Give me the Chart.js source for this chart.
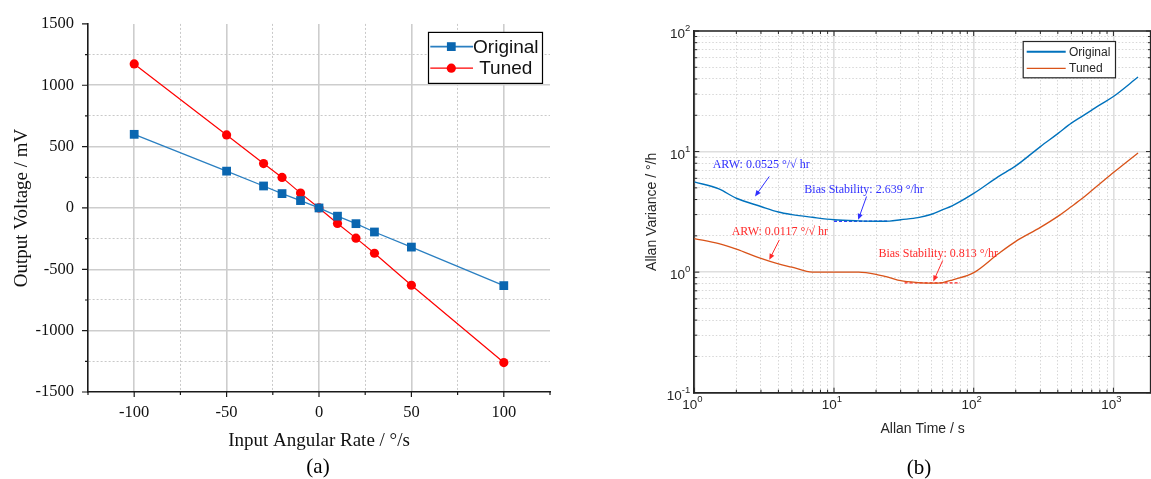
<!DOCTYPE html>
<html><head><meta charset="utf-8">
<script src="https://cdn.jsdelivr.net/npm/chart.js@4.4.0/dist/chart.umd.min.js"></script>
<style>
html,body{margin:0;padding:0;background:#fff;overflow:hidden;}
#wrap{position:relative;width:1151px;height:479px;}
#c1{position:absolute;left:0;top:0;}
#c2{position:absolute;left:575px;top:0;}
.lab{position:absolute;font-family:'Liberation Serif','Times New Roman',serif;font-size:21px;color:#000;transform:translate(-50%,-50%);white-space:nowrap;}
</style></head><body>
<div id="wrap">
<canvas id="c1" width="575" height="479"></canvas>
<canvas id="c2" width="576" height="479"></canvas>
<div class="lab" style="left:318px;top:466px">(a)</div>
<div class="lab" style="left:919px;top:467px">(b)</div>
</div>
<script>
// ---------- (a) data ----------
const rates = [-100, -50, -30, -20, -10, 0, 10, 20, 30, 50, 100];
const originalMV = [600, 300, 179, 117, 60, 0, -67, -128, -196, -319, -633];
const tunedMV = [1174, 595, 362, 249, 121, 0, -126, -246, -369, -630, -1260];
const rateTicks = [-100, -50, 0, 50, 100];
const voltTicks = [-1500, -1000, -500, 0, 500, 1000, 1500];

// ---------- (b) data ----------
const tau = [1, 1.5, 2, 3, 4, 5, 7, 10, 15, 20, 25, 30, 40, 50, 60, 70, 100, 150, 200, 300, 400, 500, 600, 700, 800, 1000, 1500];
const originalAvar = [5.6, 4.9, 4.1, 3.5, 3.15, 3.0, 2.85, 2.72, 2.66, 2.64, 2.65, 2.72, 2.83, 3.02, 3.3, 3.55, 4.5, 6.2, 7.6, 11.0, 14.1, 17.2, 19.7, 22.1, 24.4, 28.6, 41.5];
const tunedAvar = [1.9, 1.72, 1.55, 1.3, 1.17, 1.1, 1.0, 1.0, 1.0, 0.96, 0.9, 0.85, 0.82, 0.81, 0.82, 0.86, 0.99, 1.42, 1.8, 2.35, 2.9, 3.5, 4.1, 4.75, 5.4, 6.7, 9.75];
const biasOrigTau = [10, 24];
const biasOrigLevel = 2.639;
const biasTunedTau = [32, 80];
const biasTunedLevel = 0.813;
const tauDecades = [1, 10, 100, 1000];
const avarDecades = [0.1, 1, 10, 100];
const tauLabels = ['0', '1', '2', '3'];
const avarLabels = ['-1', '0', '1', '2'];

const annotations = [
  {text: 'ARW: 0.0525 °/√ hr', color: '#3030ff', at: [1.354, 7.77], from: [3.44, 6.21], to: [2.72, 4.24]},
  {text: 'Bias Stability: 2.639 °/hr', color: '#3030ff', at: [6.13, 4.82], from: [17.1, 4.24], to: [14.9, 2.72]},
  {text: 'ARW: 0.0117 °/√ hr', color: '#ff2a2a', at: [1.85, 2.17], from: [4.06, 1.85], to: [3.44, 1.265]},
  {text: 'Bias Stability: 0.813 °/hr', color: '#ff2a2a', at: [20.8, 1.41], from: [60, 1.25], to: [51.4, 0.836]}
];

const SERIF = "'Liberation Serif','Times New Roman',serif";
const SANS = "'Liberation Sans',Arial,sans-serif";

// ================= Chart (a) =================
const isMajorX = v => rateTicks.includes(v);
const isMajorY = v => voltTicks.includes(v);

const ticksA = {
  id: 'ticksA',
  afterDraw(chart) {
    const {ctx, chartArea: a, scales: {x, y}} = chart;
    ctx.save();
    ctx.strokeStyle = '#1a1a1a';
    ctx.lineWidth = 1.2;
    ctx.beginPath();
    x.ticks.forEach(t => {
      const px = x.getPixelForValue(t.value);
      const len = isMajorX(t.value) ? 5 : 3;
      ctx.moveTo(px, a.bottom); ctx.lineTo(px, a.bottom + len);
    });
    y.ticks.forEach(t => {
      const py = y.getPixelForValue(t.value);
      const len = isMajorY(t.value) ? 6 : 3;
      ctx.moveTo(a.left, py); ctx.lineTo(a.left - len, py);
    });
    ctx.stroke();
    ctx.restore();
  }
};

const legendA = {
  id: 'legendA',
  afterDraw(chart) {
    const {ctx, chartArea: a} = chart;
    const w = 114, h = 51;
    const bx = a.right - 8 - w, by = a.top + 8;
    ctx.save();
    ctx.fillStyle = '#fff';
    ctx.fillRect(bx, by, w, h);
    ctx.strokeStyle = '#000';
    ctx.lineWidth = 1.2;
    ctx.strokeRect(bx + 0.5, by + 0.5, w, h);
    chart.data.datasets.forEach((ds, i) => {
      const cy = by + 14.7 + i * 21.6;
      ctx.strokeStyle = ds.borderColor;
      ctx.lineWidth = ds.borderWidth + (i === 0 ? 0.6 : 0);
      ctx.beginPath(); ctx.moveTo(bx + 2.3, cy); ctx.lineTo(bx + 45, cy); ctx.stroke();
      ctx.fillStyle = ds.pointBackgroundColor;
      const mx = bx + 23.3;
      if (ds.pointStyle === 'rect') {
        const s = ds.pointRadius * Math.SQRT1_2;
        ctx.fillRect(mx - s, cy - s, 2 * s, 2 * s);
      } else {
        ctx.beginPath(); ctx.arc(mx, cy, ds.pointRadius, 0, Math.PI * 2); ctx.fill();
      }
      ctx.fillStyle = '#111';
      ctx.font = '19px ' + SANS;
      ctx.textAlign = 'center';
      ctx.textBaseline = 'middle';
      ctx.fillText(ds.label, bx + 77.8, cy + 1);
    });
    ctx.restore();
  }
};

new Chart(document.getElementById('c1'), {
  type: 'line',
  data: {
    datasets: [
      {
        label: 'Original',
        data: rates.map((r, i) => ({x: r, y: originalMV[i]})),
        borderColor: '#2a7fc1', borderWidth: 1.3,
        pointStyle: 'rect', pointRadius: 6.2, pointHoverRadius: 6.2,
        pointBackgroundColor: '#0a66b0', pointBorderWidth: 0, pointBorderColor: '#0a66b0'
      },
      {
        label: 'Tuned',
        data: rates.map((r, i) => ({x: r, y: tunedMV[i]})),
        borderColor: '#ff0000', borderWidth: 1.2,
        pointStyle: 'circle', pointRadius: 4.6, pointHoverRadius: 4.6,
        pointBackgroundColor: '#ff0000', pointBorderWidth: 0, pointBorderColor: '#ff0000'
      }
    ]
  },
  options: {
    responsive: false, animation: false, devicePixelRatio: 1,
    layout: {padding: {left: 0, top: 19, right: 25, bottom: 0}},
    plugins: {legend: {display: false}, tooltip: {enabled: false}},
    scales: {
      x: {
        type: 'linear', min: -125, max: 125,
        afterFit: s => { s.height = 87; },
        ticks: {
          stepSize: 25, autoSkip: false, maxRotation: 0, padding: 10.6,
          color: '#111', font: {family: SERIF, size: 16.5},
          callback: v => rateTicks.includes(v) ? String(v) : ''
        },
        grid: {
          drawTicks: false,
          color: c => (c.tick && Math.abs(c.tick.value) === 125) ? 'rgba(0,0,0,0)' : (c.tick && isMajorX(c.tick.value) ? '#cdcdcd' : '#c9c9c9'),
          lineWidth: c => (c.tick && isMajorX(c.tick.value)) ? 1.6 : 1
        },
        border: {display: true, color: '#1a1a1a', width: 1.6, dash: c => (c.tick && isMajorX(c.tick.value)) ? [] : [2, 2]},
        title: {display: true, text: 'Input Angular Rate / °/s', color: '#111', font: {family: SERIF, size: 19}, padding: {top: 0, bottom: 26.6}}
      },
      y: {
        type: 'linear', min: -1500, max: 1500,
        afterFit: s => { s.width = 88; },
        ticks: {
          stepSize: 250, autoSkip: false, padding: 14,
          color: '#111', font: {family: SERIF, size: 16.5},
          callback: v => voltTicks.includes(v) ? String(v) : ''
        },
        grid: {
          drawTicks: false,
          color: c => (c.tick && Math.abs(c.tick.value) === 1500) ? 'rgba(0,0,0,0)' : (c.tick && isMajorY(c.tick.value) ? '#cdcdcd' : '#c9c9c9'),
          lineWidth: c => (c.tick && isMajorY(c.tick.value)) ? 1.6 : 1
        },
        border: {display: true, color: '#1a1a1a', width: 1.6, dash: c => (c.tick && isMajorY(c.tick.value)) ? [] : [2, 2]},
        title: {display: true, text: 'Output Voltage / mV', color: '#111', font: {family: SERIF, size: 19}, padding: {top: 10.6, bottom: 0}}
      }
    }
  },
  plugins: [ticksA, legendA]
});

// ================= Chart (b) =================
function logTicks(decades, max) {
  const out = [];
  decades.forEach(d => {
    for (let k = 1; k <= 9; k++) {
      const v = +(k * d).toPrecision(3);
      if (v <= max + 1e-9) out.push({value: v, major: k === 1});
    }
  });
  return out;
}
const TAU_MAX = 1858;

function drawPow(ctx, exp, x, y, align) {
  ctx.font = '13.5px ' + SANS;
  const wb = ctx.measureText('10').width;
  ctx.font = '9.5px ' + SANS;
  const we = ctx.measureText(exp).width;
  const total = wb + we;
  const left = align === 'right' ? x - total : x - total / 2;
  ctx.textAlign = 'left';
  ctx.textBaseline = 'middle';
  ctx.font = '13.5px ' + SANS;
  ctx.fillText('10', left, y);
  ctx.font = '9.5px ' + SANS;
  ctx.fillText(exp, left + wb, y - 6);
}

const frameB = {
  id: 'frameB',
  afterDraw(chart) {
    const {ctx, chartArea: a, scales: {x, y}} = chart;
    ctx.save();
    ctx.strokeStyle = '#262626';
    ctx.lineWidth = 1.3;
    ctx.beginPath();
    ctx.moveTo(a.left, a.top); ctx.lineTo(a.right, a.top);
    ctx.moveTo(a.right - 0.5, a.top); ctx.lineTo(a.right - 0.5, a.bottom);
    ctx.stroke();
    ctx.lineWidth = 1;
    ctx.beginPath();
    x.ticks.forEach(t => {
      const px = x.getPixelForValue(t.value);
      const len = t.major ? 5 : 3;
      ctx.moveTo(px, a.bottom); ctx.lineTo(px, a.bottom - len);
      ctx.moveTo(px, a.top); ctx.lineTo(px, a.top + len);
    });
    y.ticks.forEach(t => {
      const py = y.getPixelForValue(t.value);
      const len = t.major ? 5 : 3;
      ctx.moveTo(a.left, py); ctx.lineTo(a.left + len, py);
      ctx.moveTo(a.right, py); ctx.lineTo(a.right - len, py);
    });
    ctx.stroke();
    ctx.fillStyle = '#262626';
    tauDecades.forEach((v, i) => {
      drawPow(ctx, tauLabels[i], x.getPixelForValue(v) - 2, a.bottom + 12.6, 'center');
    });
    avarDecades.forEach((v, i) => {
      drawPow(ctx, avarLabels[i], a.left - 4, y.getPixelForValue(v) + 3.5, 'right');
    });
    ctx.restore();
  }
};

const annotB = {
  id: 'annotB',
  afterDatasetsDraw(chart) {
    const {ctx, scales: {x, y}} = chart;
    ctx.save();
    annotations.forEach(an => {
      ctx.fillStyle = an.color;
      ctx.strokeStyle = an.color;
      ctx.font = '12px ' + SERIF;
      ctx.textAlign = 'left';
      ctx.textBaseline = 'middle';
      ctx.fillText(an.text, x.getPixelForValue(an.at[0]), y.getPixelForValue(an.at[1]));
      const x1 = x.getPixelForValue(an.from[0]), y1 = y.getPixelForValue(an.from[1]);
      const x2 = x.getPixelForValue(an.to[0]), y2 = y.getPixelForValue(an.to[1]);
      const ang = Math.atan2(y2 - y1, x2 - x1);
      const hl = 6, hw = 2.6;
      ctx.lineWidth = 1;
      ctx.beginPath(); ctx.moveTo(x1, y1);
      ctx.lineTo(x2 - Math.cos(ang) * hl * 0.8, y2 - Math.sin(ang) * hl * 0.8); ctx.stroke();
      ctx.beginPath();
      ctx.moveTo(x2, y2);
      ctx.lineTo(x2 - Math.cos(ang) * hl - Math.sin(ang) * hw, y2 - Math.sin(ang) * hl + Math.cos(ang) * hw);
      ctx.lineTo(x2 - Math.cos(ang) * hl + Math.sin(ang) * hw, y2 - Math.sin(ang) * hl - Math.cos(ang) * hw);
      ctx.closePath(); ctx.fill();
    });
    ctx.restore();
  }
};

const legendB = {
  id: 'legendB',
  afterDraw(chart) {
    const {ctx, chartArea: a} = chart;
    const w = 92.3, h = 36.3;
    const bx = a.right - 36 - w, by = a.top + 10;
    ctx.save();
    ctx.fillStyle = '#fff';
    ctx.fillRect(bx, by, w, h);
    ctx.strokeStyle = '#262626';
    ctx.lineWidth = 1.2;
    ctx.strokeRect(bx + 0.5, by + 0.5, w, h);
    chart.data.datasets.slice(0, 2).forEach((ds, i) => {
      const cy = by + 10.7 + i * 16.6;
      ctx.strokeStyle = ds.borderColor;
      ctx.lineWidth = i === 0 ? 2 : 1.3;
      ctx.beginPath(); ctx.moveTo(bx + 4, cy); ctx.lineTo(bx + 43, cy); ctx.stroke();
      ctx.fillStyle = '#262626';
      ctx.font = '12px ' + SANS;
      ctx.textAlign = 'left';
      ctx.textBaseline = 'middle';
      ctx.fillText(ds.label, bx + 46.3, cy + 0.5);
    });
    ctx.restore();
  }
};

const gridColorB = c => (c.tick && c.tick.major) ? '#dedede' : '#d2d2d2';
const gridWidthB = c => (c.tick && c.tick.major) ? 1.6 : 0.9;
const gridDashB = c => (c.tick && c.tick.major) ? [] : [1.5, 2];

new Chart(document.getElementById('c2'), {
  type: 'line',
  data: {
    datasets: [
      {label: 'Original', data: tau.map((t, i) => ({x: t, y: originalAvar[i]})), borderColor: '#0072BD', borderWidth: 1.4, pointRadius: 0, cubicInterpolationMode: 'monotone'},
      {label: 'Tuned', data: tau.map((t, i) => ({x: t, y: tunedAvar[i]})), borderColor: '#D95319', borderWidth: 1.3, pointRadius: 0, cubicInterpolationMode: 'monotone'},
      {label: 'Bias Original', data: biasOrigTau.map(t => ({x: t, y: biasOrigLevel})), borderColor: '#3a3aff', borderWidth: 1.4, borderDash: [3, 2], pointRadius: 0},
      {label: 'Bias Tuned', data: biasTunedTau.map(t => ({x: t, y: biasTunedLevel})), borderColor: '#ff2020', borderWidth: 1.2, borderDash: [3, 2], pointRadius: 0}
    ]
  },
  options: {
    responsive: false, animation: false, devicePixelRatio: 1,
    layout: {padding: {left: 0, top: 31, right: 0, bottom: 0}},
    plugins: {legend: {display: false}, tooltip: {enabled: false}},
    scales: {
      x: {
        type: 'logarithmic', min: 1, max: TAU_MAX,
        afterFit: s => { s.height = 86.3; },
        afterBuildTicks: s => { s.ticks = logTicks(tauDecades, TAU_MAX); },
        ticks: {display: false, autoSkip: false},
        grid: {drawTicks: false, color: gridColorB, lineWidth: gridWidthB},
        border: {display: true, color: '#262626', width: 1.8, dash: gridDashB},
        title: {display: true, text: 'Allan Time / s', color: '#262626', font: {family: SANS, size: 14}, padding: {top: 0, bottom: 41.9}}
      },
      y: {
        type: 'logarithmic', min: 0.1, max: 100,
        afterFit: s => { s.width = 119.3; },
        afterBuildTicks: s => { s.ticks = logTicks(avarDecades, 100); },
        ticks: {display: false, autoSkip: false},
        grid: {drawTicks: false, color: gridColorB, lineWidth: gridWidthB},
        border: {display: true, color: '#262626', width: 1.8, dash: gridDashB},
        title: {display: true, text: 'Allan Variance / °/h', color: '#262626', font: {family: SANS, size: 14}, padding: {top: 68.6, bottom: 0}}
      }
    }
  },
  plugins: [frameB, annotB, legendB]
});
</script>
</body></html>
